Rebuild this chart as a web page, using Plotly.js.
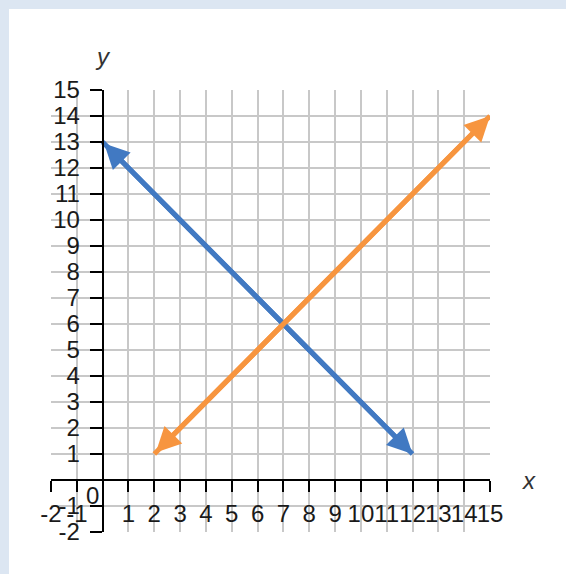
<!DOCTYPE html>
<html>
<head>
<meta charset="utf-8">
<script src="https://cdn.plot.ly/plotly-3.0.1.min.js"></script>
<style>
  html, body { margin: 0; padding: 0; background: #dce6f2; }
  #graph { position: absolute; left: 9px; top: 9px; width: 557px; height: 565px; }
</style>
</head>
<body>
<div id="graph"></div>
<script>
// line endpoints
var blueX = [0, 12];
var blueY = [13, 1];
var orangeX = [2, 15];
var orangeY = [1, 14];

// tick positions and labels
var xTicks = [-2, -1, 1, 2, 3, 4, 5, 6, 7, 8, 9, 10, 11, 12, 13, 14, 15];
var yTicks = [-2, -1, 1, 2, 3, 4, 5, 6, 7, 8, 9, 10, 11, 12, 13, 14, 15];
var xRange = [-2, 15];
var yRange = [-2, 15];

var blue = '#4179c2';
var orange = '#f7953f';

function lineTrace(xs, ys, color, name) {
    return {
        x: xs,
        y: ys,
        mode: 'lines',
        name: name,
        line: {color: color, width: 5},
        hoverinfo: 'skip'
    };
}

// double-headed arrow drawn over each line
function arrowAnn(xs, ys, color) {
    return {
        x: xs[1], y: ys[1], ax: xs[0], ay: ys[0],
        xref: 'x', yref: 'y', axref: 'x', ayref: 'y',
        text: '', showarrow: true,
        arrowside: 'end+start',
        arrowhead: 2, arrowsize: 1, arrowwidth: 5,
        arrowcolor: color
    };
}

// paper fraction of a data value inside its range
function frac(v, r) { return (v - r[0]) / (r[1] - r[0]); }

var data = [
    lineTrace(blueX, blueY, blue, 'Blue'),
    lineTrace(orangeX, orangeY, orange, 'Orange')
];

var narrow = 'Liberation Sans Narrow, Arial Narrow, Liberation Sans, sans-serif';
var tickFont = {family: narrow, size: 24, color: '#1a1a1a'};
var labelFont = {family: narrow, size: 24, color: '#333'};

var layout = {
    width: 557,
    height: 565,
    margin: {l: 42, r: 76, t: 81, b: 42},
    paper_bgcolor: '#ffffff',
    plot_bgcolor: '#ffffff',
    showlegend: false,
    xaxis: {
        range: xRange,
        tickmode: 'array',
        tickvals: xTicks,
        ticktext: xTicks.map(String),
        tickangle: 0,
        anchor: 'free',
        position: frac(0, yRange),
        showline: true, linecolor: '#000', linewidth: 2,
        ticks: 'outside', ticklen: 11, tickwidth: 2, tickcolor: '#000',
        ticklabelstandoff: 1,
        showgrid: true, gridcolor: '#c8c8c8', gridwidth: 2,
        zeroline: false,
        tickfont: tickFont,
        fixedrange: true
    },
    yaxis: {
        range: yRange,
        tickmode: 'array',
        tickvals: yTicks,
        ticktext: yTicks.map(String),
        anchor: 'free',
        position: frac(0, xRange),
        showline: true, linecolor: '#000', linewidth: 2,
        ticks: 'outside', ticklen: 12, tickwidth: 2, tickcolor: '#000',
        ticklabelstandoff: 5,
        showgrid: true, gridcolor: '#c8c8c8', gridwidth: 2,
        zeroline: false,
        tickfont: tickFont,
        fixedrange: true
    },
    annotations: [
        arrowAnn(blueX, blueY, blue),
        arrowAnn(orangeX, orangeY, orange),
        {x: frac(16.5, xRange), y: frac(0, yRange), xref: 'paper', yref: 'paper',
         xanchor: 'center', yanchor: 'middle',
         text: '<i>x</i>', showarrow: false, font: labelFont},
        {x: frac(0, xRange), y: frac(16.3, yRange), xref: 'paper', yref: 'paper',
         xanchor: 'center', yanchor: 'middle',
         text: '<i>y</i>', showarrow: false, font: labelFont},
        {x: 0, y: 0, xref: 'x', yref: 'y', text: '0', showarrow: false,
         xanchor: 'right', yanchor: 'top', xshift: -2, yshift: 0, font: tickFont}
    ]
};

Plotly.newPlot('graph', data, layout, {displayModeBar: false, staticPlot: true});
</script>
</body>
</html>
